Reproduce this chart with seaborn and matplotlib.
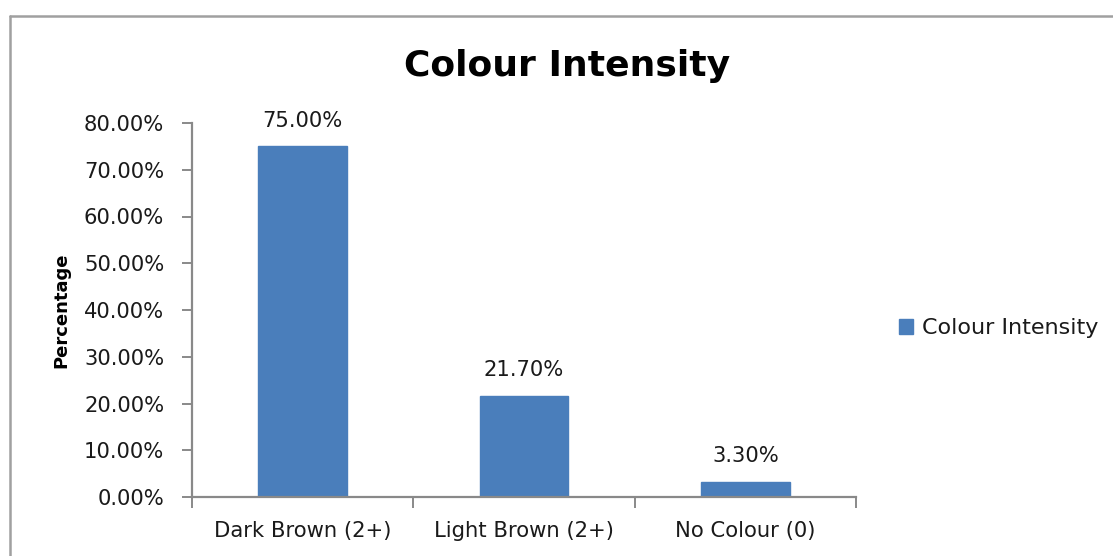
import matplotlib
matplotlib.use("Agg")
import matplotlib.pyplot as plt
from matplotlib.lines import Line2D
from matplotlib.ticker import FuncFormatter, FixedLocator
import seaborn as sns
import pandas as pd

categories = ["Dark Brown (2+)", "Light Brown (2+)", "No Colour (0)"]
values = [75.00, 21.70, 3.30]
series_name = "Colour Intensity"
y_ticks = [0, 10, 20, 30, 40, 50, 60, 70, 80]

df = pd.DataFrame({"category": categories, "value": values, "series": [series_name] * len(categories)})

sns.set_theme(style="white")
plt.rcParams["font.family"] = ["DejaVu Sans"]

BAR = "#4A7EBB"
GRAY = "#898989"
TXT = "#1a1a1a"
FS = 15.2

fig = plt.figure(figsize=(11.13, 5.56), dpi=100)
ax = fig.add_axes([192 / 1113, 1 - 497 / 556, (856 - 192) / 1113, (497 - 123) / 556])

sns.barplot(data=df, x="category", y="value", hue="series", palette=[BAR],
            width=0.4, ax=ax, legend=True, saturation=1, edgecolor=BAR)

ax.set_ylim(0, 80)
ax.set_xlim(-0.5, 2.5)
ax.yaxis.set_major_locator(FixedLocator(y_ticks))
ax.yaxis.set_major_formatter(FuncFormatter(lambda v, p: f"{v:.2f}%"))

for c in ax.containers:
    ax.bar_label(c, labels=[f"{v:.2f}%" for v in values], padding=11,
                 fontsize=FS, color=TXT)

fig.text(567 / 1113, 1 - 66 / 556, "Colour Intensity", fontsize=26, fontweight="bold",
         color="black", ha="center", va="center")
ax.set_xlabel("")
ax.set_ylabel("Percentage", fontsize=13, fontweight="bold", color="black", labelpad=10)

for s in ["top", "right"]:
    ax.spines[s].set_visible(False)
for s in ["left", "bottom"]:
    ax.spines[s].set_color(GRAY)
    ax.spines[s].set_linewidth(1.6)

ax.tick_params(axis="y", which="major", direction="out", length=7, width=1.4,
               color=GRAY, labelsize=FS, labelcolor=TXT, pad=13, left=True)
ax.set_xticks([-0.5, 0.5, 1.5, 2.5], minor=True)
ax.tick_params(axis="x", which="minor", direction="out", length=8, width=1.4,
               color=GRAY, bottom=True)
ax.tick_params(axis="x", which="major", length=0, labelsize=FS, labelcolor=TXT, pad=17)

ax.legend_.remove()
handles = [plt.Rectangle((0, 0), 1, 1, color=BAR)]
fig.legend(handles, [series_name], loc="center left",
           bbox_to_anchor=(899 / 1113, 1 - 328 / 556), frameon=False,
           fontsize=16, handlelength=0.65, handleheight=0.65,
           handletextpad=0.4, borderpad=0, borderaxespad=0, labelcolor=TXT)

# outer chart-area border (partially cropped in reference)
fig.add_artist(Line2D([10 / 1113, 10 / 1113], [0, 1 - 16 / 556], color="#a0a0a0", lw=1.8,
                      transform=fig.transFigure))
fig.add_artist(Line2D([10 / 1113, 1], [1 - 16 / 556, 1 - 16 / 556], color="#a0a0a0", lw=1.8,
                      transform=fig.transFigure))

fig.savefig("out.png", dpi=100, facecolor="white")
